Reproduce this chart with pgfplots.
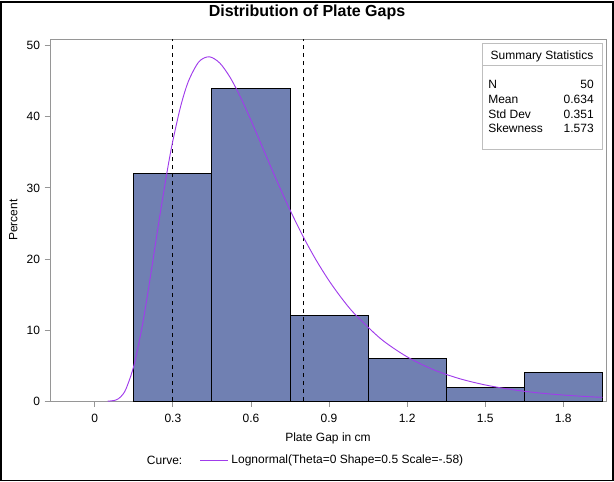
\documentclass[border=0pt]{standalone}
\usepackage{pgfplots}
\pgfplotsset{compat=1.18}
\usepackage{fontspec}
\setmainfont{Liberation Sans}
\definecolor{barfill}{RGB}{112,128,178}
\definecolor{curvecol}{RGB}{160,60,235}
\definecolor{axgray}{RGB}{150,150,150}
\definecolor{boxgray}{RGB}{190,190,190}
\begin{document}
\begin{tikzpicture}[x=1pt,y=1pt]
\begin{axis}[
  at={(0,0)}, anchor=south west,
  scale only axis, width=417pt, height=271.5pt,
  xmin=-0.172, xmax=1.964, ymin=0, ymax=50.9,
  axis line style={axgray},
  tick style={axgray, line width=0.6pt},
  tick align=outside, major tick length=4pt,
  xtick={0,0.3,0.6,0.9,1.2,1.5,1.8},
  xticklabels={0,0.3,0.6,0.9,1.2,1.5,1.8},
  ytick={0,10,20,30,40,50},
  xtick pos=bottom, ytick pos=left,
  /pgf/number format/assume math mode=true,
  tick label style={font=\fontsize{9}{11}\selectfont, black},
  xticklabel style={yshift=-2pt},
  xlabel={Plate Gap in cm}, ylabel={Percent},
  label style={font=\fontsize{9}{11}\selectfont},
  xlabel style={yshift=-1pt},
  ylabel style={yshift=0pt},
  legend style={at={(rel axis cs:0.269,-0.163)}, anchor=west, draw=none, fill=none,
    font=\fontsize{9}{11}\selectfont, inner sep=0pt},
  legend image code/.code={\draw[#1] (0pt,0pt) -- (21pt,0pt);},
  clip=true,
]
\addplot[ybar interval, fill=barfill, draw=black, line width=0.7pt, forget plot] coordinates {
(0.15,32) (0.45,44) (0.75,12) (1.05,6) (1.35,2) (1.65,4) (1.95,4)
};
\addplot[black, dashed, line width=0.7pt, forget plot] coordinates {(0.3,0) (0.3,50.9)};
\addplot[black, dashed, line width=0.7pt, forget plot] coordinates {(0.8,0) (0.8,50.9)};
\addplot[curvecol, line width=0.7pt, smooth] coordinates {
(0.05,0.004) (0.08,0.154) (0.10,0.633) (0.12,1.735) (0.15,4.968) (0.18,10.12)
(0.20,14.37) (0.22,19.00) (0.25,26.09) (0.28,32.72) (0.30,36.62) (0.33,41.47)
(0.36,45.01) (0.40,47.73) (0.44,48.43) (0.48,47.56) (0.52,45.53) (0.56,42.74)
(0.60,39.51) (0.65,35.22) (0.70,30.95) (0.75,26.90) (0.80,23.19) (0.85,19.87)
(0.90,16.95) (0.95,14.41) (1.00,12.22) (1.10,8.74) (1.20,6.24) (1.30,4.45)
(1.40,3.19) (1.50,2.29) (1.60,1.65) (1.70,1.19) (1.80,0.870) (1.90,0.636) (1.95,0.545)
};
\addlegendentry{Lognormal(Theta=0 Shape=0.5 Scale=-.58)}
\end{axis}
% Summary statistics inset
\draw[boxgray, fill=white, line width=0.6pt] (324,189) rectangle (414,268);
\draw[boxgray, line width=0.6pt] (324,252) -- (414,252);
\begin{scope}[every node/.style={font=\fontsize{9}{11}\selectfont, inner sep=0pt}]
\node at (369,258.75) {Summary Statistics};
\node[anchor=west] at (328.5,237.75) {N};
\node[anchor=east] at (408,237.75) {50};
\node[anchor=west] at (328.5,226.7) {Mean};
\node[anchor=east] at (408,226.7) {0.634};
\node[anchor=west] at (328.5,215.5) {Std Dev};
\node[anchor=east] at (408,215.5) {0.351};
\node[anchor=west] at (328.5,205) {Skewness};
\node[anchor=east] at (408,205) {1.573};
\node[anchor=west] at (72.5,-44.25) {Curve:};
\end{scope}
\node[font=\bfseries\fontsize{12}{14}\selectfont] at (192.75,292) {Distribution of Plate Gaps};
% outer frame
\draw[black, line width=1.2pt] (-36.9,-59.4) rectangle (422.4,299.4);
\end{tikzpicture}
\end{document}
